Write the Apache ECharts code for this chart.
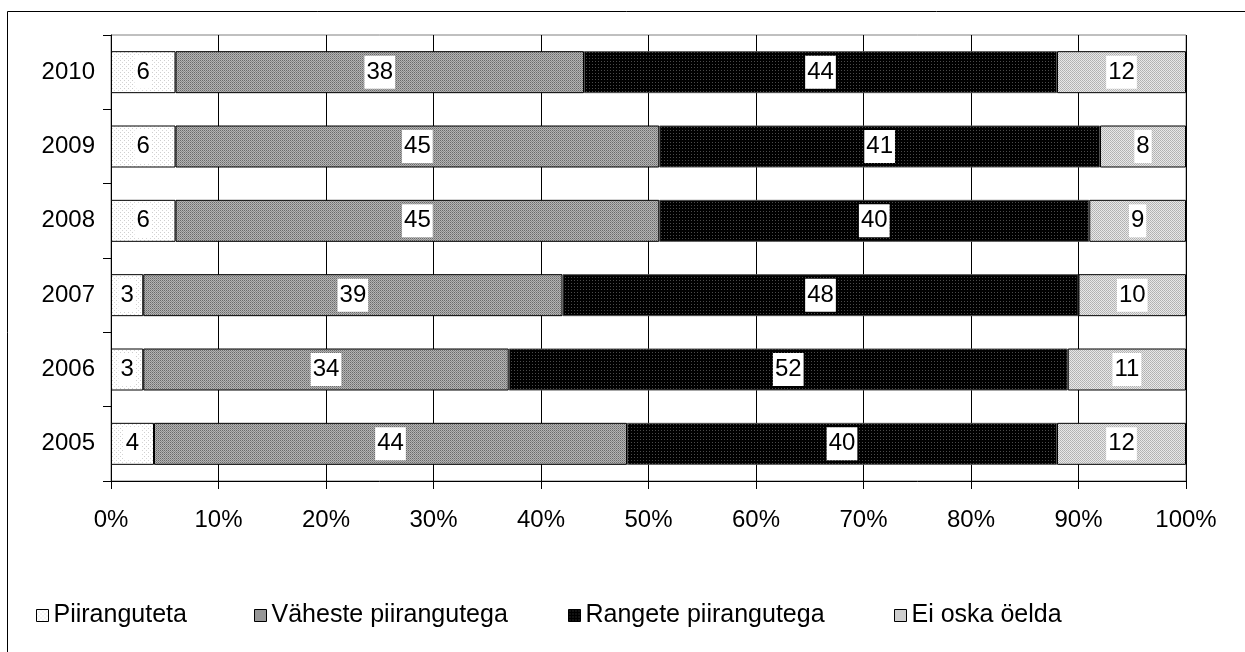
<!DOCTYPE html>
<html><head><meta charset="utf-8">
<script src="https://cdn.jsdelivr.net/npm/echarts@6/dist/echarts.min.js"></script>
<style>html,body{margin:0;padding:0;background:#fff}#c{width:1245px;height:652px}</style>
</head><body><div id="c"></div>
<script>
const categories = ['2005','2006','2007','2008','2009','2010'];
const seriesNames = ['Piiranguteta','Väheste piirangutega','Rangete piirangutega','Ei oska öelda'];
const piiranguteta = [4, 3, 3, 6, 6, 6];
const vaheste = [44, 34, 39, 45, 45, 38];
const rangete = [40, 52, 48, 40, 41, 44];
const eiOska = [12, 11, 10, 9, 8, 12];
const xTicks = [0,10,20,30,40,50,60,70,80,90,100];

function pattern(size, pixels, bg) {
  const c = document.createElement('canvas');
  c.width = size; c.height = size;
  const ctx = c.getContext('2d');
  ctx.fillStyle = bg; ctx.fillRect(0,0,size,size);
  pixels.forEach(p => { ctx.fillStyle = p[2]; ctx.fillRect(p[0], p[1], 1, 1); });
  return {image: c, repeat: 'repeat'};
}
const fills = [
  pattern(4, [[0,0,'#cfcfcf'],[2,2,'#d6d6d6']], '#ffffff'),
  pattern(2, [[0,0,'#6a6a6a'],[1,1,'#8a8a8a']], '#b4b4b4'),
  pattern(3, [[1,1,'#4a4a4a']], '#000000'),
  pattern(2, [[0,0,'#b0b0b0'],[1,1,'#b8b8b8']], '#e8e8e8')
];
const borders = ['#000','#000','#505050','#000'];
const dataSets = [piiranguteta, vaheste, rangete, eiOska];
const legendLeft = [36, 254, 568, 894];

const chart = echarts.init(document.getElementById('c'), null, {renderer: 'canvas'});
const font = 'Liberation Sans, Arial, sans-serif';
chart.setOption({
  animation: false,
  backgroundColor: '#fff',
  textStyle: {fontFamily: font},
  graphic: [{type: 'rect', shape: {x: 7.5, y: 11.5, width: 1300, height: 700}, style: {fill: 'none', stroke: '#000', lineWidth: 1}, silent: true, z: -1}],
  grid: {left: 111, top: 35, right: 59, bottom: 171, show: true, borderColor: '#808080', borderWidth: 1},
  legend: seriesNames.map((n, i) => ({
    top: 603, left: legendLeft[i], itemWidth: 12, itemHeight: 12, itemGap: 0,
    icon: 'rect', padding: 0,
    textStyle: {fontSize: 25, color: '#000', fontFamily: font},
    itemStyle: {borderColor: '#000', borderWidth: 1},
    data: [n]
  })),
  xAxis: {
    type: 'value', min: 0, max: 100, interval: 10,
    axisLine: {show: true, lineStyle: {color: '#000', width: 1}},
    axisTick: {show: true, length: 8, lineStyle: {color: '#000'}},
    axisLabel: {formatter: v => xTicks.includes(v) ? v + '%' : '', fontSize: 24, color: '#000', margin: 27, fontFamily: font},
    splitLine: {show: true, lineStyle: {color: '#000', width: 1}}
  },
  yAxis: {
    type: 'category', data: categories,
    axisLine: {show: true, lineStyle: {color: '#000', width: 1}},
    axisTick: {show: true, length: 8, lineStyle: {color: '#000'}},
    axisLabel: {fontSize: 24, color: '#000', margin: 16, fontFamily: font}
  },
  series: seriesNames.map((n, i) => ({
    name: n, type: 'bar', stack: 'total', barWidth: 42,
    data: dataSets[i],
    itemStyle: {color: fills[i], borderColor: borders[i], borderWidth: 1},
    label: {show: true, position: 'inside', color: '#000', fontSize: 24, fontFamily: font,
      backgroundColor: '#fff', padding: [3, 2, 2, 2], lineHeight: 28}
  }))
});
</script></body></html>
